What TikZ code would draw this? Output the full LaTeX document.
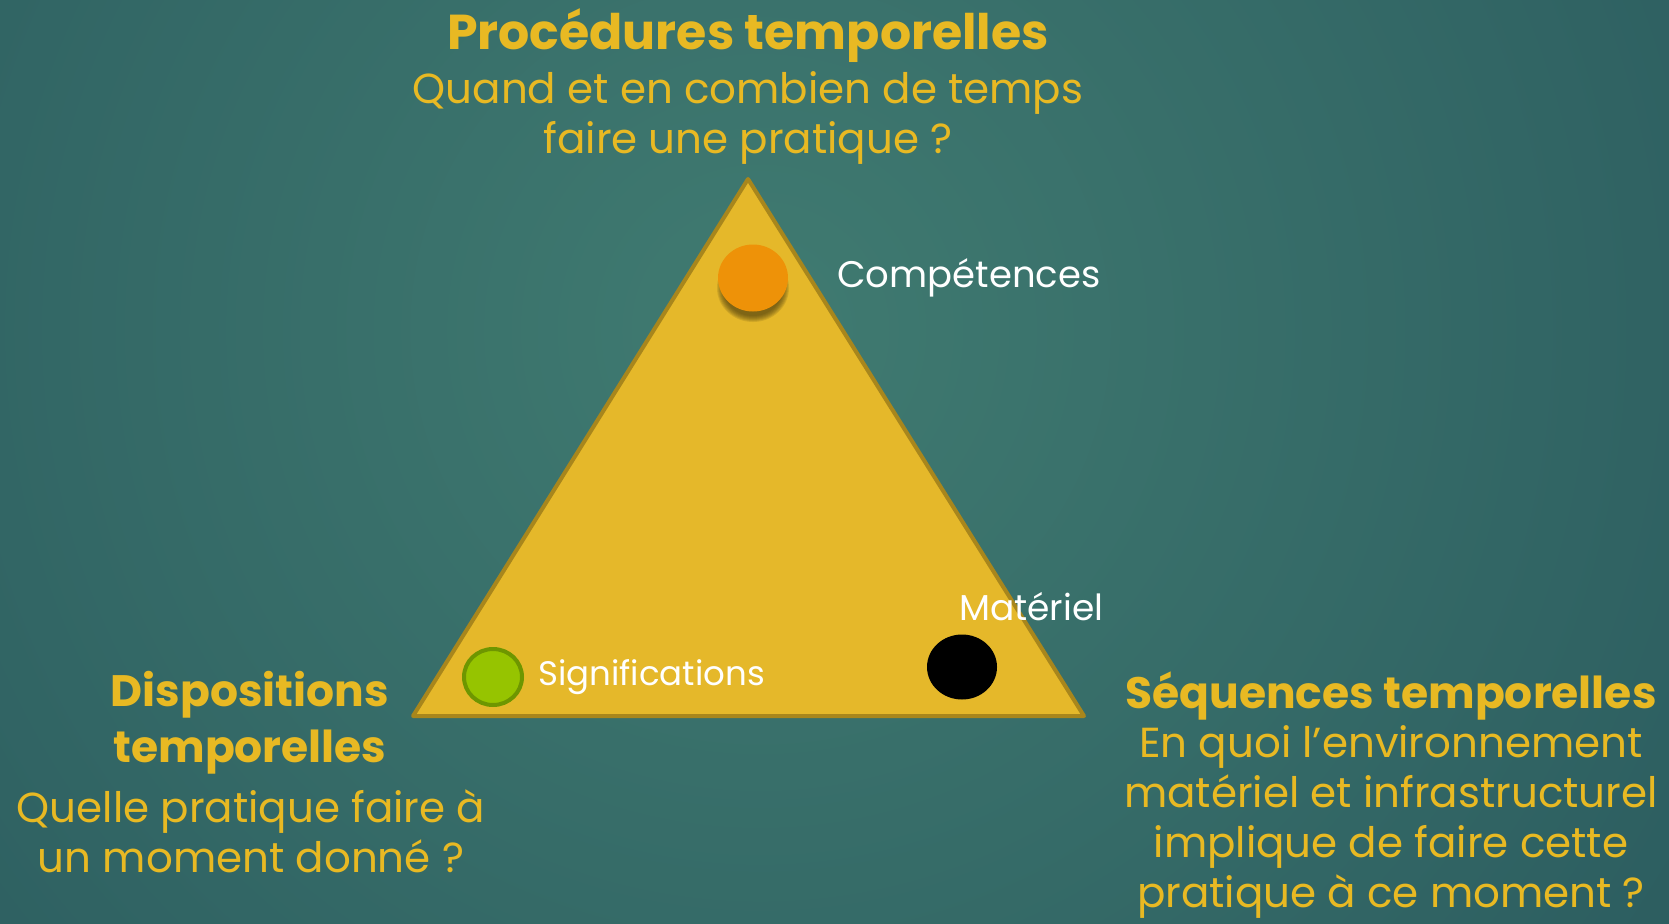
\documentclass[tikz,border=0pt]{standalone}
\usepackage{fontspec}
\setmainfont{Poppins}
\usetikzlibrary{positioning,shapes.geometric}
\definecolor{boardLight}{RGB}{64,123,113}
\definecolor{boardDark}{RGB}{26,66,80}
\definecolor{goldColor}{RGB}{232,185,35}
\definecolor{triangleFill}{RGB}{229,184,42}
\definecolor{triangleEdge}{RGB}{168,134,28}
\definecolor{orangeDot}{RGB}{238,146,8}
\definecolor{greenDot}{RGB}{150,196,0}
\definecolor{greenEdge}{RGB}{110,150,0}
\tikzstyle{board} = [x = 1pt, y = -1pt]
\tikzstyle{titleText} = [text=goldColor, font=\fontsize{44}{56}\selectfont\bfseries, align=center, inner sep=0]
\tikzstyle{questionText} = [text=goldColor, font=\fontsize{42}{50}\selectfont, align=center, inner sep=0]
\tikzstyle{dotLabel} = [text=white, font=\fontsize{34}{40}\selectfont, inner sep=0]
\tikzstyle{dotStyle} = [ellipse, inner sep=0]
\tikzstyle{shadowStyle} = [fill=black!55!triangleEdge, opacity=.14]
\tikzstyle{triangleStyle} = [fill=triangleFill, draw=triangleEdge, line width=4, line join=round]

\begin{document}
\begin{tikzpicture}[board]
  \useasboundingbox (0,0) rectangle (1669,923);
  \begin{scope}
    \clip (0,0) rectangle (1669,923);
    \shade [inner color=boardLight, outer color=boardDark] (760,330) circle (2100);
  \end{scope}

  % triangle
  \coordinate (apex) at (748,179);
  \coordinate (baseRight) at (1084,716);
  \coordinate (baseLeft) at (413,716);
  \filldraw [triangleStyle] (apex) -- (baseRight) -- (baseLeft) -- cycle;

  % soft shadow under the orange dot
  \foreach \grow in {0,...,6} {
    \fill [shadowStyle] (753,288) ellipse ({30 + \grow} and {28 + \grow});
  }

  % dots and their labels
  \node [dotStyle, fill=orangeDot, minimum width=70, minimum height=67] (compDot) at (753,278) {};
  \node [dotStyle, fill=greenDot, draw=greenEdge, line width=4, minimum width=58, minimum height=56] (signDot) at (493,677) {};
  \node [dotStyle, fill=black, minimum width=70, minimum height=65] (matDot) at (962,667) {};
  \node [dotLabel, font=\fontsize{37}{40}\selectfont, right=49 of compDot] (compLabel) {Compétences};
  \node [dotLabel, right=14 of signDot] (signLabel) {Significations};
  \node [dotLabel, font=\fontsize{36}{40}\selectfont, anchor=west] (matLabel) at (959,607) {Matériel};

  % corner texts
  \node [titleText, font=\fontsize{49}{56}\selectfont\bfseries] (procTitle) at (748,36) {Procédures temporelles};
  \node [questionText] (procQuestion) at (748,118) {Quand et en combien de temps\\faire une pratique ?};
  \node [titleText] (dispTitle) at (250,723) {Dispositions\\temporelles};
  \node [questionText] (dispQuestion) at (251,831) {Quelle pratique faire à\\un moment donné ?};
  \node [titleText] (seqTitle) at (1391,696) {Séquences temporelles};
  \node [questionText] (seqQuestion) at (1391,822) {En quoi l’environnement\\matériel et infrastructurel\\implique de faire cette\\pratique à ce moment ?};
\end{tikzpicture}
\end{document}
